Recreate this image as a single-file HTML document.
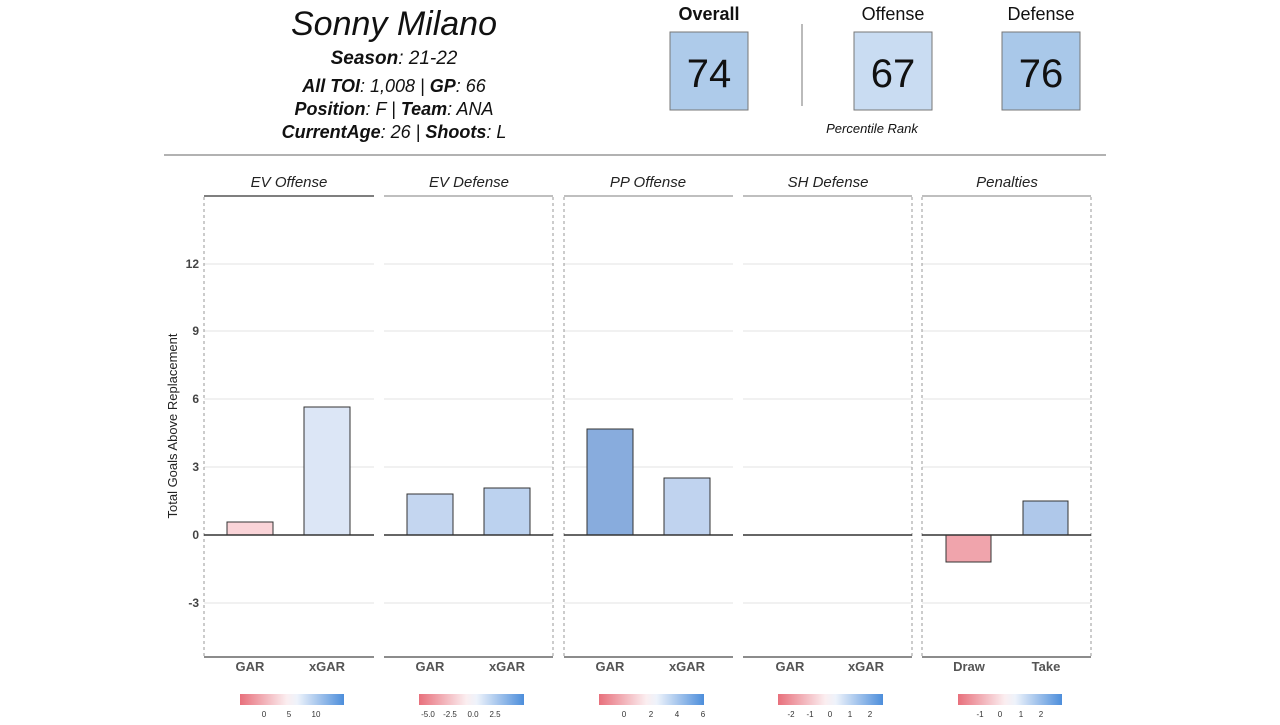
<!DOCTYPE html>
<html><head><meta charset="utf-8"><style>
body{margin:0;background:#fff;width:1280px;height:720px;overflow:hidden;font-family:"Liberation Sans","DejaVu Sans",sans-serif}
</style></head><body>
<svg width="1280" height="720" xmlns="http://www.w3.org/2000/svg" font-family="'Liberation Sans','DejaVu Sans',sans-serif">
<defs>
<linearGradient id="g" x1="0" x2="1"><stop offset="0" stop-color="#e8707c"/><stop offset="0.45" stop-color="#fbeef0"/><stop offset="0.55" stop-color="#eef3fb"/><stop offset="1" stop-color="#4d8edb"/></linearGradient>
</defs>
<g font-style="italic" fill="#111" text-anchor="middle">
<text x="394" y="35" font-size="34">Sonny Milano</text>
<text x="394" y="64" font-size="19"><tspan font-weight="bold">Season</tspan>: 21-22</text>
<text x="394" y="92" font-size="18"><tspan font-weight="bold">All TOI</tspan>: 1,008 | <tspan font-weight="bold">GP</tspan>: 66</text>
<text x="394" y="115" font-size="18"><tspan font-weight="bold">Position</tspan>: F | <tspan font-weight="bold">Team</tspan>: ANA</text>
<text x="394" y="138" font-size="18"><tspan font-weight="bold">CurrentAge</tspan>: 26 | <tspan font-weight="bold">Shoots</tspan>: L</text>
<text x="872" y="133" font-size="13">Percentile Rank</text>
</g>
<g text-anchor="middle" fill="#111">
<text x="709" y="20" font-size="18" font-weight="bold">Overall</text>
<text x="893" y="20" font-size="18">Offense</text>
<text x="1041" y="20" font-size="18">Defense</text>
<rect x="670" y="32" width="78" height="78" fill="#aecbea" stroke="#777"/>
<rect x="854" y="32" width="78" height="78" fill="#c9dcf2" stroke="#777"/>
<rect x="1002" y="32" width="78" height="78" fill="#a9c8e9" stroke="#777"/>
<text x="709" y="87" font-size="40">74</text>
<text x="893" y="87" font-size="40">67</text>
<text x="1041" y="87" font-size="40">76</text>
</g>
<line x1="802" y1="24" x2="802" y2="106" stroke="#bbb" stroke-width="2"/>
<line x1="164" y1="155" x2="1106" y2="155" stroke="#999" stroke-width="1.5"/>
<g font-size="15" font-style="italic" fill="#222" text-anchor="middle">
<text x="289" y="187">EV Offense</text><text x="469" y="187">EV Defense</text><text x="648" y="187">PP Offense</text><text x="828" y="187">SH Defense</text><text x="1007" y="187">Penalties</text>
</g>
<g stroke="#e3e3e3" stroke-width="1">
<line x1="204" x2="374" y1="264" y2="264"/><line x1="204" x2="374" y1="331" y2="331"/><line x1="204" x2="374" y1="399" y2="399"/><line x1="204" x2="374" y1="467" y2="467"/><line x1="204" x2="374" y1="603" y2="603"/>
<line x1="384" x2="553" y1="264" y2="264"/><line x1="384" x2="553" y1="331" y2="331"/><line x1="384" x2="553" y1="399" y2="399"/><line x1="384" x2="553" y1="467" y2="467"/><line x1="384" x2="553" y1="603" y2="603"/>
<line x1="564" x2="733" y1="264" y2="264"/><line x1="564" x2="733" y1="331" y2="331"/><line x1="564" x2="733" y1="399" y2="399"/><line x1="564" x2="733" y1="467" y2="467"/><line x1="564" x2="733" y1="603" y2="603"/>
<line x1="743" x2="912" y1="264" y2="264"/><line x1="743" x2="912" y1="331" y2="331"/><line x1="743" x2="912" y1="399" y2="399"/><line x1="743" x2="912" y1="467" y2="467"/><line x1="743" x2="912" y1="603" y2="603"/>
<line x1="922" x2="1091" y1="264" y2="264"/><line x1="922" x2="1091" y1="331" y2="331"/><line x1="922" x2="1091" y1="399" y2="399"/><line x1="922" x2="1091" y1="467" y2="467"/><line x1="922" x2="1091" y1="603" y2="603"/>
</g>
<g stroke="#aaa" stroke-width="1.5">
<line x1="204" x2="374" y1="196" y2="196" stroke="#555"/><line x1="384" x2="553" y1="196" y2="196"/><line x1="564" x2="733" y1="196" y2="196"/><line x1="743" x2="912" y1="196" y2="196"/><line x1="922" x2="1091" y1="196" y2="196"/>
<line x1="204" x2="374" y1="657" y2="657" stroke="#666"/><line x1="384" x2="553" y1="657" y2="657" stroke="#666"/><line x1="564" x2="733" y1="657" y2="657" stroke="#666"/><line x1="743" x2="912" y1="657" y2="657" stroke="#666"/><line x1="922" x2="1091" y1="657" y2="657" stroke="#666"/>
</g>
<g stroke="#999" stroke-dasharray="3,3" stroke-width="1">
<line x1="204" x2="204" y1="197" y2="657"/><line x1="553" x2="553" y1="197" y2="657"/><line x1="564" x2="564" y1="197" y2="657"/><line x1="912" x2="912" y1="197" y2="657"/><line x1="922" x2="922" y1="197" y2="657"/><line x1="1091" x2="1091" y1="197" y2="657"/>
</g>
<g stroke="#333" stroke-width="1">
<rect x="227" y="522" width="46" height="13" fill="#fad4d8"/>
<rect x="304" y="407" width="46" height="128" fill="#dce6f6"/>
<rect x="407" y="494" width="46" height="41" fill="#c4d6f0"/>
<rect x="484" y="488" width="46" height="47" fill="#bcd2ef"/>
<rect x="587" y="429" width="46" height="106" fill="#88acdd"/>
<rect x="664" y="478" width="46" height="57" fill="#c0d3ef"/>
<rect x="946" y="535" width="45" height="27" fill="#f0a4ac"/>
<rect x="1023" y="501" width="45" height="34" fill="#afc8ea"/>
</g>
<g stroke="#333" stroke-width="1.5">
<line x1="204" x2="374" y1="535" y2="535"/><line x1="384" x2="553" y1="535" y2="535"/><line x1="564" x2="733" y1="535" y2="535"/><line x1="743" x2="912" y1="535" y2="535"/><line x1="922" x2="1091" y1="535" y2="535"/>
</g>
<g font-size="12" font-weight="bold" fill="#444" text-anchor="end">
<text x="199" y="268">12</text><text x="199" y="335">9</text><text x="199" y="403">6</text><text x="199" y="471">3</text><text x="199" y="539">0</text><text x="199" y="607">-3</text>
</g>
<text transform="translate(177,426) rotate(-90)" font-size="13" fill="#222" text-anchor="middle">Total Goals Above Replacement</text>
<g font-size="13" font-weight="bold" fill="#555" text-anchor="middle">
<text x="250" y="671">GAR</text><text x="327" y="671">xGAR</text><text x="430" y="671">GAR</text><text x="507" y="671">xGAR</text><text x="610" y="671">GAR</text><text x="687" y="671">xGAR</text><text x="790" y="671">GAR</text><text x="866" y="671">xGAR</text><text x="969" y="671">Draw</text><text x="1046" y="671">Take</text>
</g>
<g>
<rect x="240" y="694" width="104" height="11" fill="url(#g)"/>
<rect x="419" y="694" width="105" height="11" fill="url(#g)"/>
<rect x="599" y="694" width="105" height="11" fill="url(#g)"/>
<rect x="778" y="694" width="105" height="11" fill="url(#g)"/>
<rect x="958" y="694" width="104" height="11" fill="url(#g)"/>
</g>
<g font-size="8" fill="#333" text-anchor="middle">
<text x="264" y="717">0</text><text x="289" y="717">5</text><text x="316" y="717">10</text>
<text x="428" y="717">-5.0</text><text x="450" y="717">-2.5</text><text x="473" y="717">0.0</text><text x="495" y="717">2.5</text>
<text x="624" y="717">0</text><text x="651" y="717">2</text><text x="677" y="717">4</text><text x="703" y="717">6</text>
<text x="791" y="717">-2</text><text x="810" y="717">-1</text><text x="830" y="717">0</text><text x="850" y="717">1</text><text x="870" y="717">2</text>
<text x="980" y="717">-1</text><text x="1000" y="717">0</text><text x="1021" y="717">1</text><text x="1041" y="717">2</text>
</g>
</svg>
</body></html>
